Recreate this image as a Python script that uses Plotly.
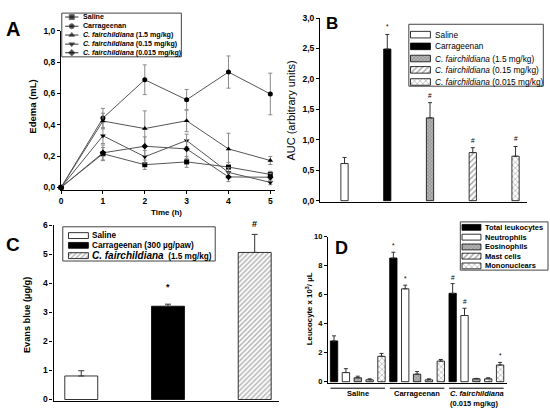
import plotly.graph_objects as go

FIG_W, FIG_H = 550, 415
SANS = "Liberation Sans, Arial, sans-serif"

# ---------------- data ----------------
# Panel A: paw edema time course
time_h = [0, 1, 2, 3, 4, 5]
a_names = ["Saline", "Carrageenan", "<i>C. fairchildiana</i> (1.5 mg/kg)",
           "<i>C. fairchildiana</i> (0.15 mg/kg)", "<i>C. fairchildiana</i> (0.015 mg/kg)"]
a_saline = [0.0, 0.215, 0.145, 0.163, 0.13, 0.083]
a_saline_err = [0.0, 0.04, 0.03, 0.035, 0.03, 0.02]
a_carr = [0.0, 0.443, 0.688, 0.56, 0.737, 0.597]
a_carr_err = [0.0, 0.062, 0.095, 0.066, 0.103, 0.133]
a_cf15 = [0.0, 0.424, 0.376, 0.426, 0.246, 0.172]
a_cf15_err = [0.0, 0.05, 0.113, 0.07, 0.1, 0.026]
a_cf015 = [0.0, 0.33, 0.196, 0.3, 0.096, 0.032]
a_cf015_err = [0.0, 0.05, 0.04, 0.04, 0.03, 0.015]
a_cf0015 = [0.0, 0.221, 0.263, 0.246, 0.067, 0.065]
a_cf0015_err = [0.0, 0.05, 0.06, 0.06, 0.03, 0.025]

# Panel B: AUC
b_names = ["Saline", "Carrageenan", "<i>C. fairchildiana</i> (1.5 mg/kg)",
           "<i>C. fairchildiana</i> (0.15 mg/kg)", "<i>C. fairchildiana</i> (0.015 mg/kg)"]
b_auc = [0.61, 2.49, 1.36, 0.79, 0.73]
b_err = [0.10, 0.24, 0.25, 0.08, 0.16]
b_marks = ["", "*", "#", "#", "#"]

# Panel C: Evans blue
c_names = ["Saline", "Carrageenan (300 µg/paw)",
           "<i><span style='font-size:10px'>C. fairchildiana</span></i>  (1.5 mg/kg)"]
c_evans = [0.81, 3.21, 5.06]
c_err = [0.18, 0.07, 0.62]
c_marks = ["", "*", "#"]

# Panel D: leukocytes
d_groups = [["Saline"], ["Carrageenan"], ["<i>C. fairchildiana</i>", "(0.015 mg/kg)"]]
d_cells = ["Total leukocytes", "Neutrophils", "Eosinophils", "Mast cells", "Mononuclears"]
d_total = [2.81, 8.52, 6.09]
d_total_err = [0.35, 0.40, 0.67]
d_neut = [0.63, 6.40, 4.56]
d_neut_err = [0.27, 0.25, 0.50]
d_eos = [0.27, 0.52, 0.20]
d_eos_err = [0.11, 0.18, 0.03]
d_mast = [0.13, 0.13, 0.20]
d_mast_err = [0.07, 0.07, 0.07]
d_mono = [1.75, 1.42, 1.15]
d_mono_err = [0.20, 0.11, 0.18]
d_total_marks = ["", "*", "#"]
d_neut_marks = ["", "*", "#"]
d_mono_marks = ["", "", "*"]

# ---------------- styles ----------------
OUT = dict(color="black", width=0.8)
ST_WHITE = dict(color="white", line=OUT)
ST_BLACK = dict(color="black", line=OUT)
ST_GRAY = dict(color="#b8b8b8", line=OUT,
               pattern=dict(shape="x", size=2.5, solidity=0.45, fgcolor="#5e5e5e", fillmode="overlay"))
ST_HATCH = dict(color="white", line=OUT,
                pattern=dict(shape="/", size=4, solidity=0.3, fgcolor="#333333", fillmode="overlay"))
ST_HATCH_C = dict(color="white", line=OUT,
                  pattern=dict(shape="/", size=3.5, solidity=0.35, fgcolor="#444444", fillmode="overlay"))
ST_CROSS = dict(color="white", line=OUT,
                pattern=dict(shape="x", size=4, solidity=0.25, fgcolor="#333333", fillmode="overlay"))

a_symbols = ["square", "circle", "triangle-up", "triangle-down", "diamond"]
b_styles = [ST_WHITE, ST_BLACK, ST_GRAY, ST_HATCH, ST_CROSS]
c_styles = [ST_WHITE, ST_BLACK, ST_HATCH_C]
d_styles = [ST_BLACK, ST_WHITE, ST_GRAY, ST_HATCH, ST_CROSS]


def px_x(p):
    return p / FIG_W


def px_y(p):
    return 1 - p / FIG_H


fig = go.Figure()
layout_axes = {}
shapes = []
annotations = []


def axis_base(tsize):
    return dict(showline=True, linecolor="black", linewidth=1.3, ticks="outside", ticklen=3,
                tickwidth=1.3, tickcolor="black", showgrid=False, zeroline=False, fixedrange=True,
                tickfont=dict(family=SANS, size=tsize, color="black", weight="bold"))


def set_axes(n, xpx, ypx, xr, yr, xextra=None, yextra=None, visible=True, tsize=8):
    sx = "" if n == 1 else str(n)
    xa = axis_base(tsize)
    ya = axis_base(tsize)
    xa.update(domain=[px_x(xpx[0]), px_x(xpx[1])], range=xr, anchor="y" + sx)
    ya.update(domain=[px_y(ypx[0]), px_y(ypx[1])], range=yr, anchor="x" + sx)
    if not visible:
        xa.update(visible=False)
        ya.update(visible=False)
    if xextra:
        xa.update(xextra)
    if yextra:
        ya.update(yextra)
    layout_axes["xaxis" + sx] = xa
    layout_axes["yaxis" + sx] = ya


def text(x, y, t, size, weight="normal", angle=0, family=SANS, xanchor="center",
         yanchor="middle", xref="paper", yref="paper", align="center", yshift=0):
    annotations.append(dict(x=x, y=y, text=t, showarrow=False, textangle=angle,
                            font=dict(family=family, size=size, color="black", weight=weight),
                            xref=xref, yref=yref, xanchor=xanchor, yanchor=yanchor,
                            align=align, yshift=yshift))


def add_legend(n, box, items, fsize, weight, sw, tx, kind="bar"):
    x0, y0, x1, y1 = box
    set_axes(n, (x0, x1), (y1, y0), [0, x1 - x0], [y1 - y0, 0], visible=False)
    sx = str(n)
    shapes.append(dict(type="rect", xref="paper", yref="paper", x0=px_x(x0), x1=px_x(x1),
                       y0=px_y(y1), y1=px_y(y0), line=dict(color="#444444", width=1)))
    for label, yc, style in items:
        if kind == "bar":
            fig.add_trace(go.Bar(x=[sw[1] - sw[0]], base=[sw[0]], y=[yc], orientation="h",
                                 width=[sw[2]], marker=style, xaxis="x" + sx, yaxis="y" + sx,
                                 showlegend=False, hoverinfo="skip"))
        else:
            fig.add_trace(go.Scatter(x=[sw[0], (sw[0] + sw[1]) / 2, sw[1]], y=[yc] * 3,
                                     mode="lines+markers",
                                     line=dict(color="#333333", width=1),
                                     marker=dict(symbol=style, size=[0, 5, 0], color="black"),
                                     xaxis="x" + sx, yaxis="y" + sx, showlegend=False,
                                     hoverinfo="skip"))
        text(tx, yc, label, fsize, weight=weight, xanchor="left", xref="x" + sx, yref="y" + sx)


# ---------------- Panel A ----------------
set_axes(1, (59.3, 273.5), (189, 26.5), [0, 5.1], [-0.016, 1.0],
         xextra=dict(tickvals=time_h),
         yextra=dict(tickvals=[0, 0.2, 0.4, 0.6, 0.8, 1.0], tickformat=".1f"), tsize=8.5)
a_series = [(a_saline, a_saline_err), (a_carr, a_carr_err), (a_cf15, a_cf15_err),
            (a_cf015, a_cf015_err), (a_cf0015, a_cf0015_err)]
for (vals, errs), sym in zip(a_series, a_symbols):
    fig.add_trace(go.Scatter(x=time_h, y=vals, mode="lines+markers", cliponaxis=False,
                             line=dict(color="#555555", width=1),
                             marker=dict(symbol=sym, size=5, color="black"),
                             error_y=dict(type="data", array=errs, color="#8a8a8a",
                                          thickness=1, width=2),
                             xaxis="x", yaxis="y", showlegend=False))
text(px_x(165), px_y(212), "Time (h)", 8, weight="bold")
text(px_x(31), px_y(104), "Edema (mL)", 9.5, weight="bold", angle=-90)
text(px_x(11), px_y(25), "A", 20, weight="bold")
add_legend(5, (60, 8.3, 180, 53),
           [(a_names[i], yc, a_symbols[i]) for i, yc in enumerate([4, 13.4, 22.4, 31.7, 40.5])],
           7.1, "bold", (3.3, 16.7, 0), 19, kind="line")

# ---------------- Panel B ----------------
b_x = list(range(len(b_auc)))
set_axes(2, (319.3, 527), (201.7, 13.3), [-0.57, 4.27], [-0.027, 3.0],
         xextra=dict(showticklabels=False, ticks=""),
         yextra=dict(tickvals=[0, 0.5, 1.0, 1.5, 2.0, 2.5, 3.0], tickformat=".1f"), tsize=8.5)
for i in b_x:
    fig.add_trace(go.Bar(x=[i], y=[b_auc[i]], width=0.17, marker=b_styles[i],
                         error_y=dict(type="data", array=[b_err[i]], arrayminus=[0],
                                      symmetric=False, color="#333333", thickness=1, width=2),
                         xaxis="x2", yaxis="y2", showlegend=False))
    if b_marks[i]:
        text(i, b_auc[i] + b_err[i], b_marks[i], 6.5, xref="x2", yref="y2",
             yanchor="bottom", yshift=2)
text(px_x(290), px_y(108), "AUC (arbitrary units)", 11, angle=-90)
text(px_x(331), px_y(19), "B", 17, weight="bold")
add_legend(6, (408.3, 19.7, 543.3, 83),
           [(b_names[i], yc, b_styles[i]) for i, yc in enumerate([10.6, 22.6, 35, 46.6, 59])],
           8.3, "normal", (1.7, 21.7, 6.7), 24.4)

# ---------------- Panel C ----------------
c_x = list(range(len(c_evans)))
set_axes(3, (51.7, 278), (404.3, 225), [-0.32, 2.28], [-0.035, 6.0],
         xextra=dict(showticklabels=False, ticks=""),
         yextra=dict(tickvals=[0, 1, 2, 3, 4, 5, 6]), tsize=8.5)
for i in c_x:
    fig.add_trace(go.Bar(x=[i], y=[c_evans[i]], width=0.38, marker=c_styles[i],
                         error_y=dict(type="data", array=[c_err[i]], arrayminus=[0],
                                      symmetric=False, color="#333333", thickness=1, width=3),
                         xaxis="x3", yaxis="y3", showlegend=False))
    if c_marks[i]:
        text(i, c_evans[i] + c_err[i], c_marks[i], 9, weight="bold", xref="x3", yref="y3",
             yanchor="bottom", yshift=(10 if c_marks[i] == "*" else 3))
text(px_x(25), px_y(317), "Evans blue (µg/g)", 9.2, weight="bold", angle=-90)
text(px_x(11), px_y(245), "C", 19, weight="bold")
add_legend(7, (61, 226.7, 214, 261.7),
           [(c_names[i], yc, c_styles[i]) for i, yc in enumerate([9, 19, 29.5])],
           8.2, "bold", (5.7, 25.7, 6), 27.3)

# ---------------- Panel D ----------------
d_series = [(d_total, d_total_err, d_total_marks), (d_neut, d_neut_err, d_neut_marks),
            (d_eos, d_eos_err, None), (d_mast, d_mast_err, None), (d_mono, d_mono_err, d_mono_marks)]
n_cells = len(d_cells)
set_axes(4, (327.3, 506.7), (386.7, 236.7), [-0.5, 14.57], [-0.11, 10.0],
         xextra=dict(showticklabels=False, ticks=""),
         yextra=dict(tickvals=[0, 2, 4, 6, 8, 10]), tsize=7.5)
for k, (vals, errs, marks) in enumerate(d_series):
    xs = [g * n_cells + k for g in range(len(d_groups))]
    fig.add_trace(go.Bar(x=xs, y=vals, width=0.62, marker=d_styles[k],
                         error_y=dict(type="data", array=errs, arrayminus=[0] * len(errs),
                                      symmetric=False, color="#333333", thickness=1, width=2),
                         xaxis="x4", yaxis="y4", showlegend=False))
    if marks:
        for g, m in enumerate(marks):
            if m:
                text(xs[g], vals[g] + errs[g], m, 6.5, xref="x4", yref="y4",
                     yanchor="bottom", yshift=1)
for g, lines in enumerate(d_groups):
    shapes.append(dict(type="line", xref="x4", yref="paper", x0=g * n_cells - 0.3,
                       x1=g * n_cells + n_cells - 0.7, y0=px_y(391.7), y1=px_y(391.7),
                       line=dict(color="black", width=1)))
    if len(lines) > 1:
        for j, ln in enumerate(lines):
            text(g * n_cells - 0.4, px_y(397.5 + 10 * j), ln, 7.5, weight="bold", xref="x4",
                 xanchor="left")
    else:
        text(g * n_cells + 2, px_y(397.5), lines[0], 7.5, weight="bold", xref="x4")
text(px_x(308), px_y(310), "Leucocyte x 10<sup>3</sup>/ µL", 7.8, weight="bold", angle=-90)
text(px_x(341), px_y(248), "D", 18, weight="bold")
add_legend(8, (460, 221.7, 548, 271),
           [(d_cells[i], yc, d_styles[i]) for i, yc in enumerate([5.6, 15.6, 25.6, 35, 45])],
           7.5, "bold", (1.7, 20.7, 6), 22.7)

fig.update_layout(width=FIG_W, height=FIG_H, margin=dict(l=0, r=0, t=0, b=0),
                  paper_bgcolor="white", plot_bgcolor="rgba(0,0,0,0)",
                  barmode="overlay", separators=",.", showlegend=False,
                  font=dict(family=SANS, color="black"),
                  shapes=shapes, annotations=annotations, **layout_axes)
fig.write_html("out.html", config={"displayModeBar": False},
               post_script="document.body.style.margin='0';document.body.style.overflow='hidden';")
